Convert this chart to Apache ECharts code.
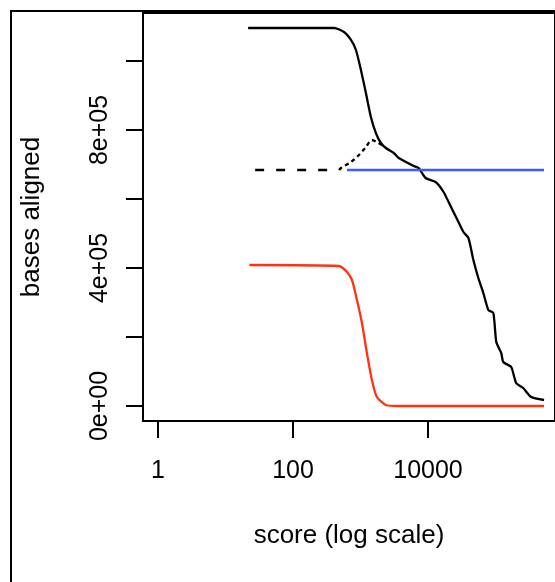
<!DOCTYPE html>
<html>
<head>
<meta charset="utf-8">
<script src="https://cdn.jsdelivr.net/npm/echarts@6/dist/echarts.min.js"></script>
<style>
  html, body { margin: 0; padding: 0; background: #fff; }
  #chart { width: 555px; height: 582px; }
</style>
</head>
<body>
<div id="chart"></div>
<script>
// total bases aligned vs score cutoff
var solidScore = [22, 419, 589, 748, 887, 1052, 1248, 1480, 1755, 2083, 2471, 3245, 3849, 6416, 7609, 9666,
    13590, 17860, 23460, 29790, 35320, 41880, 49650, 58880, 69810, 82970, 98400, 108900, 129100, 138300,
    181600, 215300, 273500, 359400, 559800];
var solidBases = [1095700, 1095700, 1084100, 1060900, 1031900, 973900, 907200, 837700, 791300, 762300, 747800, 733300, 718800, 695700, 689900, 660900,
    649300, 620300, 573900, 533300, 504300, 487000, 423200, 371000, 327500, 278300, 269600, 185500, 153600, 127500,
    113000, 66700, 52200, 26100, 17400];

// dashed curve: flat part, then the bump that joins the solid line
var dashFlatScore = [28, 497];
var dashFlatBases = [684100, 684100];
var dashRiseScore = [497, 532, 748, 984, 1248, 1532, 1816, 2154];
var dashRiseBases = [684100, 689900, 707200, 727500, 750700, 771000, 765200, 756500];

var blueScore = [653, 559800];
var blueBases = [684100, 684100];

var redScore = [23, 497, 653, 774, 918, 1089, 1291, 1532, 1816, 2471, 3849, 559800];
var redBases = [408700, 405800, 388400, 365200, 307200, 240600, 153600, 75400, 26100, 2900, 0, 0];

var xTickValues = [1, 100, 10000];
var xTickLabels = ['1', '100', '10000'];
var yTickValues = [0, 200000, 400000, 600000, 800000, 1000000];
var yTickLabels = ['0e+00', '', '4e+05', '', '8e+05', ''];

function pairs(xs, ys) {
    var out = [];
    for (var i = 0; i < xs.length; i++) out.push([xs[i], ys[i]]);
    return out;
}

var FONT = "'Liberation Sans', Arial, Helvetica, sans-serif";
var LW = 2.3;

var chart = echarts.init(document.getElementById('chart'), null, { renderer: 'canvas' });

var option = {
    animation: false,
    backgroundColor: '#fff',
    textStyle: { fontFamily: FONT, color: '#000' },
    graphic: [{
        type: 'rect',
        shape: { x: 11, y: 11, width: 700, height: 700 },
        style: { fill: 'none', stroke: '#000', lineWidth: 2 },
        silent: true
    }],
    grid: [
        // plot box
        { left: 143, top: 13, width: 414, height: 408, show: true, borderColor: '#000', borderWidth: 2, backgroundColor: 'transparent' },
        // y ticks (0 .. 1e6)
        { left: 143, top: 61, width: 414, height: 345 },
        // x ticks (1 .. 10000)
        { left: 158, top: 13, width: 270, height: 408 }
    ],
    xAxis: [
        {
            gridIndex: 0, type: 'log', logBase: 10,
            min: Math.pow(10, -0.2222), max: Math.pow(10, 5.911),
            axisLine: { show: false }, axisTick: { show: false }, axisLabel: { show: false }, splitLine: { show: false },
            name: 'score (log scale)', nameLocation: 'middle', nameGap: 102,
            nameTextStyle: { fontSize: 26, fontFamily: FONT, color: '#000' }
        },
        { gridIndex: 1, type: 'value', show: false },
        {
            gridIndex: 2, type: 'log', logBase: 100, min: 1, max: 10000,
            axisLine: { show: false },
            axisTick: { show: true, length: 17, lineStyle: { color: '#000', width: 2 } },
            splitLine: { show: false },
            axisLabel: {
                fontSize: 25, fontFamily: FONT, color: '#000', margin: 38,
                formatter: function (v) {
                    var i = xTickValues.indexOf(Math.round(v));
                    return i >= 0 ? xTickLabels[i] : '';
                }
            }
        }
    ],
    yAxis: [
        {
            gridIndex: 0, type: 'value', min: -43478, max: 1139130,
            axisLine: { show: false }, axisTick: { show: false }, axisLabel: { show: false }, splitLine: { show: false },
            name: 'bases aligned', nameLocation: 'middle', nameRotate: 90, nameGap: 98,
            nameTextStyle: { fontSize: 26, fontFamily: FONT, color: '#000' }
        },
        {
            gridIndex: 1, type: 'value', min: 0, max: 1000000, interval: 200000,
            axisLine: { show: false },
            axisTick: { show: true, length: 17, lineStyle: { color: '#000', width: 2 } },
            splitLine: { show: false },
            axisLabel: {
                rotate: 90, fontSize: 25, fontFamily: FONT, color: '#000', margin: 30,
                formatter: function (v) {
                    var i = yTickValues.indexOf(Math.round(v));
                    return i >= 0 ? yTickLabels[i] : '';
                }
            }
        },
        { gridIndex: 2, type: 'value', show: false }
    ],
    series: [
        {
            name: 'total', type: 'line', xAxisIndex: 0, yAxisIndex: 0,
            data: pairs(solidScore, solidBases), showSymbol: false, smooth: 0.2,
            lineStyle: { color: '#000', width: LW }
        },
        {
            name: 'dashed', type: 'line', xAxisIndex: 0, yAxisIndex: 0,
            data: pairs(dashFlatScore, dashFlatBases), showSymbol: false,
            lineStyle: { color: '#000', width: LW, type: [9, 12] }
        },
        {
            name: 'dashed bump', type: 'line', xAxisIndex: 0, yAxisIndex: 0,
            data: pairs(dashRiseScore, dashRiseBases), showSymbol: false, smooth: 0.3,
            lineStyle: { color: '#000', width: LW, type: [4, 3.5] }
        },
        {
            name: 'blue', type: 'line', xAxisIndex: 0, yAxisIndex: 0,
            data: pairs(blueScore, blueBases), showSymbol: false,
            lineStyle: { color: '#3a5cff', width: LW }
        },
        {
            name: 'red', type: 'line', xAxisIndex: 0, yAxisIndex: 0,
            data: pairs(redScore, redBases), showSymbol: false, smooth: 0.2,
            lineStyle: { color: '#ff3311', width: LW }
        }
    ]
};

chart.setOption(option);
</script>
</body>
</html>
